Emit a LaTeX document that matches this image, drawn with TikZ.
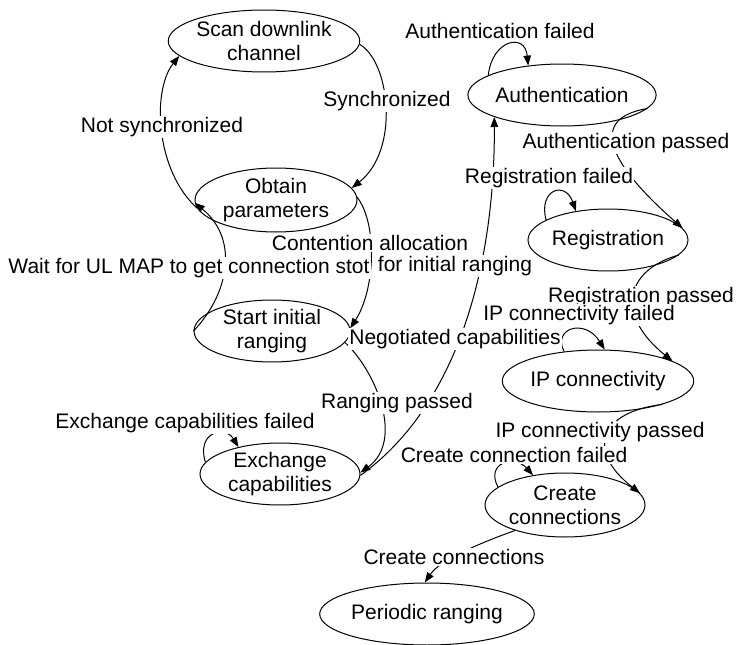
\documentclass[tikz,border=0pt]{standalone}
\usepackage{fontspec}
\setmainfont{Liberation Sans}
\usetikzlibrary{shapes.geometric,arrows.meta}
\begin{document}
\begin{tikzpicture}[x=1pt,y=-1pt,
  font=\fontsize{21}{24}\selectfont,
  state/.style={draw,ellipse,line width=1pt,inner sep=0pt,
    minimum width=160pt,minimum height=62pt,align=center},
  edge/.style={draw,line width=1pt,-{Triangle[length=10pt,width=7.5pt]}},
  lbl/.style={fill=white,inner sep=1pt,align=center}]
\useasboundingbox (0,0) rectangle (740,645);

% states
\node[state,minimum width=178pt] (scan) at (264,41) {Scan downlink\\channel};
\node[state,minimum width=162pt,minimum height=64pt] (obtain) at (276,200) {Obtain\\parameters};
\node[state,minimum width=156pt] (start) at (272,331) {Start initial\\ranging};
\node[state] (exch) at (280,474) {Exchange\\capabilities};
\node[state] (auth) at (562,95) {Authentication};
\node[state] (reg) at (608,240) {Registration};
\node[state] (ip) at (598,381) {IP connectivity};
\node[state,minimum height=64pt] (create) at (565,505) {Create\\connections};
\node[state] (periodic) at (427,614) {Periodic ranging};

% transitions
\draw[edge] (scan.-2) .. controls (390,62) and (400,150) .. (obtain.9);
\draw[edge] (obtain.186) .. controls (155,170) and (152,90) .. (scan.190);
\draw[edge] (start.180) .. controls (228,295) and (240,240) .. (obtain.182);
\draw[edge] (obtain.2) .. controls (378,225) and (375,290) .. (start.2);
\draw[edge] (start.-9) .. controls (375,370) and (405,440) .. (exch.1);
\draw[edge] (exch.-1) .. controls (465,400) and (495,250) .. (auth.198);
\draw[edge] (auth.165) .. controls (492,40) and (525,32) .. (auth.139);
\draw[edge] (auth.-9) .. controls (590,118) and (605,160) .. (reg.9);
\draw[edge] (reg.162) .. controls (538,190) and (565,180) .. (reg.138);
\draw[edge] (reg.-12) .. controls (625,270) and (615,315) .. (ip.15);
\draw[edge] (ip.139) .. controls (552,328) and (585,318) .. (ip.78);
\draw[edge] (ip.-20) .. controls (600,412) and (585,450) .. (create.9);
\draw[edge] (create.165) .. controls (485,462) and (515,455) .. (create.137);
\draw[edge] (create.207) .. controls (480,543) and (440,560) .. (periodic.94);
\draw[edge] (exch.171) .. controls (196,432) and (225,425) .. (exch.147);

% transition labels
\node[lbl] (lsync) at (387,101) {Synchronized};
\node[lbl] (lnosync) at (162,127) {Not synchronized};
\node[lbl] (lcontA) at (370,243) {Contention allocation};
\node[lbl] (lcontB) at (455,266) {for initial ranging};
\node[lbl] (lwait) at (189,268) {Wait for UL MAP to get connection stot};
\node[lbl] (lrang) at (397,403) {Ranging passed};
\node[lbl] (lnego) at (455,339) {Negotiated capabilities};
\node[lbl] (lauthf) at (500,31) {Authentication failed};
\node[lbl] (lauthp) at (626,143) {Authentication passed};
\node[lbl] (lregf) at (549,178) {Registration failed};
\node[lbl] (lregp) at (641,297) {Registration passed};
\node[lbl] (lipf) at (579,315) {IP connectivity failed};
\node[lbl] (lipp) at (600,432) {IP connectivity passed};
\node[lbl] (lcrf) at (514,455) {Create connection failed};
\node[lbl] (lcr) at (454,557) {Create connections};
\node[lbl] (lexf) at (185,423) {Exchange capabilities failed};
\end{tikzpicture}
\end{document}
